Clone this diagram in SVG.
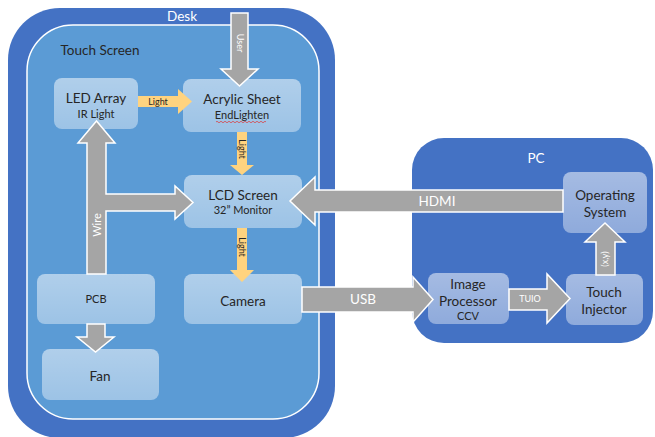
<svg xmlns="http://www.w3.org/2000/svg" width="655" height="437" viewBox="0 0 655 437">
<defs>
<linearGradient id="boxg" x1="0" y1="0" x2="0" y2="1">
<stop offset="0" stop-color="#ffffff" stop-opacity="0.52"/>
<stop offset="1" stop-opacity="0.4" stop-color="#ffffff"/>
</linearGradient>
<style>
.box{fill:url(#boxg);}
.t{font-family:Lato,"Open Sans","Liberation Sans",sans-serif;fill:#262626;text-anchor:middle;}
.w{font-family:Lato,"Open Sans","Liberation Sans",sans-serif;fill:#ffffff;text-anchor:middle;}
.ga{fill:#A5A5A5;stroke:#ffffff;stroke-width:1.5;stroke-linejoin:miter;}
.oa{fill:#FFD37F;}
.big{font-size:13.5px;}
.sm{font-size:11px;}
.xs{font-size:9px;}
</style>
</defs>
<rect width="655" height="437" fill="#ffffff"/>
<g id="desk">
<rect x="8" y="8" width="327" height="430" rx="52" fill="#4472C4"/>
<text class="w big" x="182" y="21">Desk</text>
</g>
<g id="touch-screen">
<rect x="27" y="25" width="292" height="394" rx="46" fill="#5B9BD5" stroke="#ffffff" stroke-width="1.5"/>
<text class="t big" x="100" y="55">Touch Screen</text>
</g>
<g id="pc">
<rect x="412" y="138" width="241" height="205" rx="32" fill="#4472C4"/>
<text class="w big" x="536" y="163">PC</text>
</g>
<g id="led-array">
<rect class="box" x="54" y="78" width="84" height="51" rx="8"/>
<text class="t big" x="96" y="103">LED Array</text>
<text class="t sm" x="96" y="118">IR Light</text>
</g>
<g id="acrylic-sheet">
<rect class="box" x="183" y="79" width="118" height="53" rx="8"/>
<text class="t big" x="242" y="104">Acrylic Sheet</text>
<text class="t sm" x="242" y="119">EndLighten</text>
<path d="M216,122 q1,-1.5 2,0 t2,0 t2,0 t2,0 t2,0 t2,0 t2,0 t2,0 t2,0 t2,0 t2,0 t2,0 t2,0 t2,0 t2,0 t2,0 t2,0 t2,0 t2,0 t2,0 t2,0 t2,0 t2,0 t2,0 t2,0" fill="none" stroke="#E03030" stroke-width="0.7"/>
</g>
<g id="lcd-screen">
<rect class="box" x="184" y="175" width="118" height="53" rx="8"/>
<text class="t big" x="243" y="200">LCD Screen</text>
<text class="t sm" x="243" y="214">32” Monitor</text>
</g>
<g id="pcb">
<rect class="box" x="37" y="274" width="118" height="50" rx="8"/>
<text class="t sm" x="96" y="303">PCB</text>
</g>
<g id="camera">
<rect class="box" x="184" y="274" width="118" height="50" rx="8"/>
<text class="t big" x="243" y="306">Camera</text>
</g>
<g id="fan">
<rect class="box" x="42" y="349" width="117" height="51" rx="8"/>
<text class="t big" x="100" y="381">Fan</text>
</g>
<g id="operating-system">
<rect class="box" x="563" y="172" width="84" height="61" rx="8"/>
<text class="t big" x="605" y="200">Operating</text>
<text class="t big" x="605" y="217">System</text>
</g>
<g id="image-processor">
<rect class="box" x="428" y="273" width="81" height="51" rx="8"/>
<text class="t big" x="468" y="289">Image</text>
<text class="t big" x="468" y="306">Processor</text>
<text class="t sm" x="468" y="320">CCV</text>
</g>
<g id="touch-injector">
<rect class="box" x="566" y="274" width="77" height="51" rx="8"/>
<text class="t big" x="604" y="297">Touch</text>
<text class="t big" x="604" y="314">Injector</text>
</g>
<g id="connectors">
<polygon class="ga" points="231,13 248,13 248,69 258,69 239.5,86 221,69 231,69"/>
<text class="w xs" transform="translate(240,43) rotate(90)" dy="3">User</text>
<polygon class="oa" points="138,96 178,96 178,89 192,101.5 178,114 178,107 138,107"/>
<text class="t xs" x="158" y="105">Light</text>
<polygon class="oa" points="237,132 247,132 247,165 254,165 242,175 230,165 237,165"/>
<text class="t xs" transform="translate(242,149) rotate(90)" dy="3">Light</text>
<polygon class="oa" points="237,228 247,228 247,270 254,270 242,282 230,270 237,270"/>
<text class="t xs" transform="translate(242,247) rotate(90)" dy="3">Light</text>
<polygon class="ga" points="87,274 87,143 78,143 96.5,121 115,143 106,143 106,194 175,194 175,186 193,202.5 175,219 175,211 106,211 106,274"/>
<text class="w sm" transform="translate(96.5,225) rotate(-90)" dy="4">Wire</text>
<polygon class="ga" points="87,324 105,324 105,337 114,337 95.5,352 77,337 87,337"/>
<polygon class="ga" points="563,190 315,190 315,177 290,201 315,225 315,212 563,212"/>
<text class="w big" x="437" y="206">HDMI</text>
<polygon class="ga" points="302,287 413,287 413,277 433,299.5 413,322 413,312 302,312"/>
<text class="w big" x="363" y="304">USB</text>
<polygon class="ga" points="509,289 547,289 547,274 570,298.5 547,323 547,310 509,310"/>
<text class="w xs" x="530" y="302">TUIO</text>
<polygon class="ga" points="596,275 596,242 585,242 605,223 625,242 615,242 615,275"/>
<text class="w xs" transform="translate(605,259) rotate(-90)" dy="3">(x,y)</text>
</g>
</svg>
